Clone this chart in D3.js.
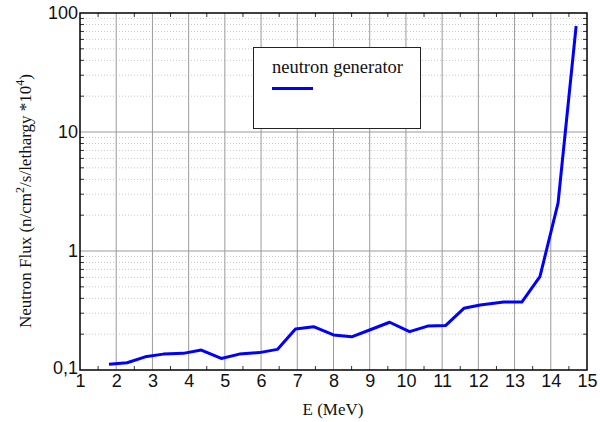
<!DOCTYPE html>
<html><head><meta charset="utf-8">
<script src="https://cdn.jsdelivr.net/npm/d3@7"></script>
<style>body{margin:0;background:#fff}svg{display:block}
.serif{font-family:"Liberation Serif","Times New Roman",Times,serif}
.sans{font-family:"Liberation Sans",Arial,Helvetica,sans-serif}
</style>
</head><body>
<script>
const energy = [1.8,2.3,2.8,3.3,3.85,4.35,4.9,5.4,5.95,6.45,6.95,7.45,8.0,8.5,9.05,9.55,10.1,10.6,11.1,11.6,12.05,12.7,13.2,13.7,14.2,14.7];
const flux   = [0.112,0.115,0.129,0.136,0.138,0.147,0.125,0.136,0.140,0.149,0.221,0.231,0.197,0.190,0.220,0.252,0.210,0.234,0.237,0.330,0.352,0.372,0.372,0.608,2.52,77.8];
const xTicks = [1,2,3,4,5,6,7,8,9,10,11,12,13,14,15];
const yTicks = [0.1,1,10,100];
const yTickLabels = ["0,1","1","10","100"];
const seriesName = "neutron generator";

const W=600,H=422;
const m={l:80,r:13,t:13,b:52};
const svg=d3.select("body").append("svg").attr("width",W).attr("height",H);
const x=d3.scaleLinear().domain([1,15]).range([m.l,W-m.r]);
const y=d3.scaleLog().domain([0.1,100]).range([H-m.b,m.t]);
const pw=W-m.l-m.r, ph=H-m.t-m.b;

const minorY=[];
[0.1,1,10].forEach(d=>{for(let k=2;k<=9;k++)minorY.push(d*k);});
const minorX=d3.range(1.5,15,1);

// minor dotted grid
svg.append("g").selectAll("line").data(minorY).join("line")
  .attr("x1",m.l).attr("x2",W-m.r).attr("y1",d=>y(d)).attr("y2",d=>y(d))
  .attr("stroke","#c8c8c8").attr("stroke-width",1).attr("stroke-dasharray","1,2");
// major grid
svg.append("g").selectAll("line").data(xTicks.slice(1,-1)).join("line")
  .attr("x1",d=>x(d)).attr("x2",d=>x(d)).attr("y1",m.t).attr("y2",H-m.b)
  .attr("stroke","#9a9a9a").attr("stroke-width",1);
svg.append("g").selectAll("line").data([1,10]).join("line")
  .attr("x1",m.l).attr("x2",W-m.r).attr("y1",d=>y(d)).attr("y2",d=>y(d))
  .attr("stroke","#9a9a9a").attr("stroke-width",1);

// axes
const gx=svg.append("g").attr("transform",`translate(0,${H-m.b})`)
  .call(d3.axisBottom(x).tickValues(xTicks).tickFormat(d3.format("d")).tickSize(0).tickPadding(4));
gx.select(".domain").remove();
gx.attr("font-family",null).attr("font-size",null);
gx.selectAll("text").attr("class","sans").style("font-size","18px").attr("fill","#111");
const gy=svg.append("g").attr("transform",`translate(${m.l},0)`)
  .call(d3.axisLeft(y).tickValues(yTicks).tickFormat((d,i)=>yTickLabels[i]).tickSize(0).tickPadding(2));
gy.select(".domain").remove();
gy.attr("font-family",null).attr("font-size",null);
gy.selectAll("text").attr("class","sans").style("font-size","18px").attr("fill","#111");
gy.selectAll(".tick").filter(d=>d===0.1).select("text").attr("dy","0.2em");

// minor ticks inward
const tk=svg.append("g").attr("stroke","#333").attr("stroke-width",1);
minorY.forEach(d=>{
  tk.append("line").attr("x1",m.l).attr("x2",m.l+4).attr("y1",y(d)).attr("y2",y(d));
  tk.append("line").attr("x1",W-m.r-4).attr("x2",W-m.r).attr("y1",y(d)).attr("y2",y(d));
});
minorX.forEach(d=>{
  tk.append("line").attr("x1",x(d)).attr("x2",x(d)).attr("y1",H-m.b-4).attr("y2",H-m.b);
  tk.append("line").attr("x1",x(d)).attr("x2",x(d)).attr("y1",m.t).attr("y2",m.t+4);
});
// frame
svg.append("rect").attr("x",m.l).attr("y",m.t).attr("width",pw).attr("height",ph)
  .attr("fill","none").attr("stroke","#000").attr("stroke-width",1.5);

// line
svg.append("path").datum(energy.map((e,i)=>[e,flux[i]]))
  .attr("d",d3.line().x(d=>x(d[0])).y(d=>y(d[1])))
  .attr("fill","none").attr("stroke","#0000ff").attr("stroke-width",3).attr("stroke-linejoin","round");

// legend
const lg=svg.append("g");
lg.append("rect").attr("x",253.5).attr("y",47.5).attr("width",167).attr("height",81)
  .attr("fill","#fff").attr("stroke","#222").attr("stroke-width",1);
lg.append("text").attr("class","serif").attr("x",272).attr("y",73).text(seriesName)
  .style("font-size","18.5px").attr("fill","#111");
lg.append("line").attr("x1",272).attr("x2",313).attr("y1",88.5).attr("y2",88.5)
  .attr("stroke","#0000ff").attr("stroke-width",3);

// axis titles
svg.append("text").attr("class","serif").attr("x",333).attr("y",415).attr("text-anchor","middle")
  .style("font-size","17px").attr("fill","#111")
  .text("E (MeV)");
const yt=svg.append("text").attr("class","serif").attr("transform",`translate(31,201) rotate(-90)`)
  .attr("text-anchor","middle").style("font-size","17px").attr("fill","#111");
yt.append("tspan").text("Neutron Flux (n/cm");
yt.append("tspan").attr("dy",-7).style("font-size","12px").text("2");
yt.append("tspan").attr("dy",7).text("/s/lethargy *10");
yt.append("tspan").attr("dy",-7).style("font-size","12px").text("4");
yt.append("tspan").attr("dy",7).text(")");
</script>
</body></html>
